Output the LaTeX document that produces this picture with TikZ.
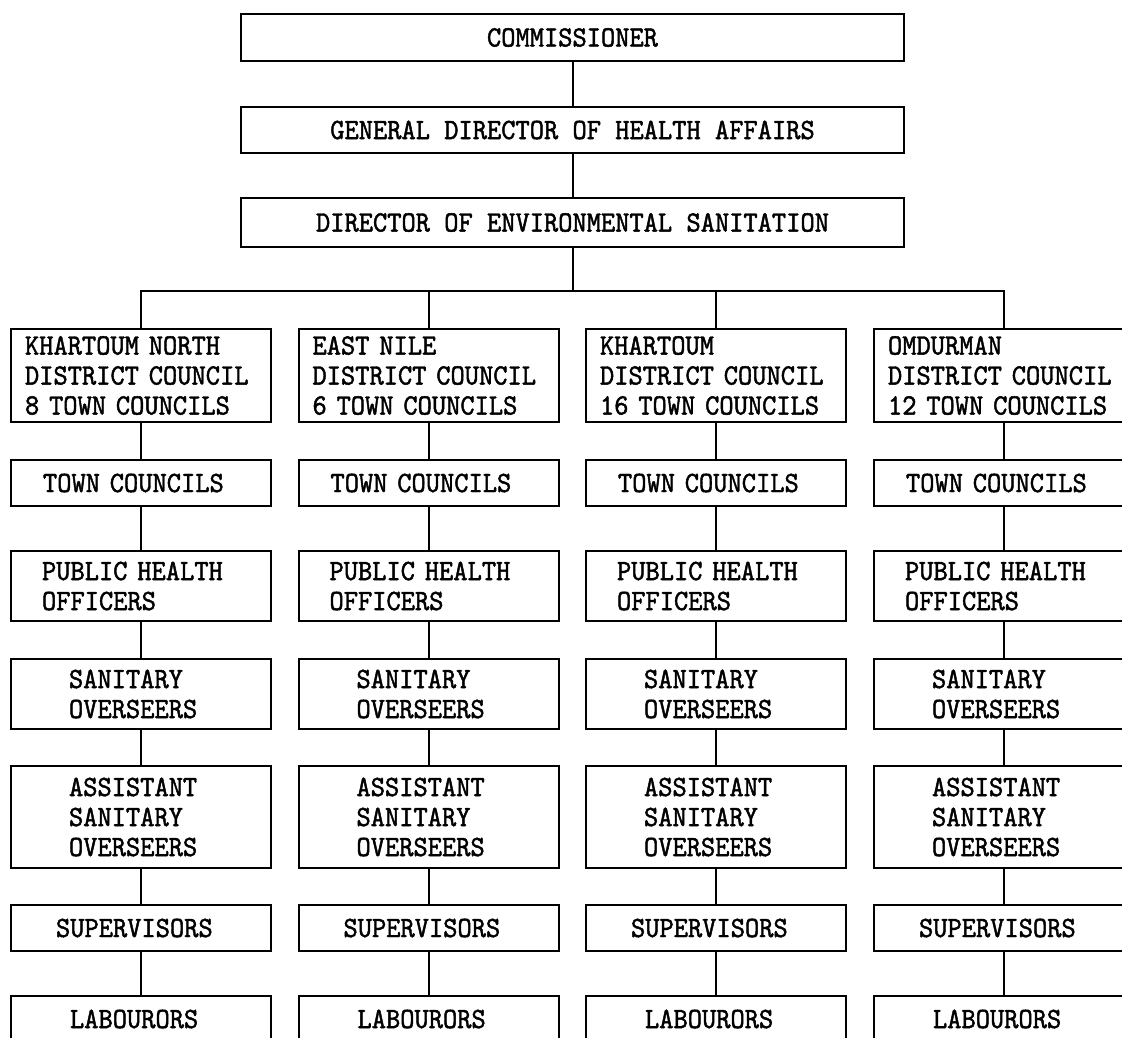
\documentclass[tikz,border=0pt]{standalone}
\usepackage{fontspec}
\newfontfamily\orgmono{lmmono10-regular.otf}[FakeStretch=0.92,FakeBold=1.5]
\begin{document}
\begin{tikzpicture}[x=1pt,y=-1pt,
  every node/.style={font=\orgmono\fontsize{29.5}{30}\selectfont},
  box/.style={draw, line width=2pt, inner ysep=0pt, align=left},
  topbox/.style={draw, line width=2pt, minimum width=663pt, inner sep=0pt},
  link/.style={line width=2pt},
  distbox/.style={box, inner xsep=14pt, text width=232pt, minimum height=93pt},
  townbox/.style={box, inner xsep=32pt, text width=196pt, minimum height=46pt},
  phbox/.style={box, inner xsep=31pt, text width=198pt, minimum height=70pt},
  sanbox/.style={box, inner xsep=58pt, text width=144pt, minimum height=70pt},
  asbox/.style={box, inner xsep=58pt, text width=144pt, minimum height=102pt},
  supbox/.style={box, inner xsep=45pt, text width=170pt, minimum height=46pt},
  labbox/.style={box, inner xsep=59pt, text width=142pt, minimum height=46pt},
]
\clip (0,0) rectangle (1122,1037);
\fill[white] (0,0) rectangle (1122,1037);

\node[topbox, minimum height=47pt] (comm) at (572.5,37.5) {COMMISSIONER};
\node[topbox, minimum height=46pt] (gen) at (572.5,130) {GENERAL DIRECTOR OF HEALTH AFFAIRS};
\node[topbox, minimum height=49pt] (dir) at (572.5,222.5) {DIRECTOR OF ENVIRONMENTAL SANITATION};
\draw[link] (comm) -- (gen);
\draw[link] (gen) -- (dir);

\foreach \cnt/\xx/\nm/\num in {1/141/{KHARTOUM~NORTH}/8, 2/428.5/{EAST~NILE}/6, 3/716/{KHARTOUM}/16, 4/1004/{OMDURMAN}/12}{
  \node[distbox] (d\cnt) at (\xx,375.5) {\nm\\DISTRICT~COUNCIL\\\num~TOWN~COUNCILS};
  \node[townbox] (t\cnt) at (\xx,483) {TOWN~COUNCILS};
  \node[phbox] (p\cnt) at (\xx,586) {PUBLIC~HEALTH\\OFFICERS};
  \node[sanbox] (s\cnt) at (\xx,694) {SANITARY\\OVERSEERS};
  \node[asbox] (a\cnt) at (\xx,817) {ASSISTANT\\SANITARY\\OVERSEERS};
  \node[supbox] (u\cnt) at (\xx,928) {SUPERVISORS};
  \node[labbox] (l\cnt) at (\xx,1019) {LABOURORS};
  \coordinate (b\cnt) at (\xx,291);
  \draw[link] (d\cnt) -- (t\cnt) -- (p\cnt) -- (s\cnt) -- (a\cnt) -- (u\cnt) -- (l\cnt);
}
\draw[link] (dir) -- (dir |- b1);
\draw[link] (d1) -- (b1) -- (b4) -- (d4);
\draw[link] (b2) -- (d2);
\draw[link] (b3) -- (d3);
\end{tikzpicture}
\end{document}
